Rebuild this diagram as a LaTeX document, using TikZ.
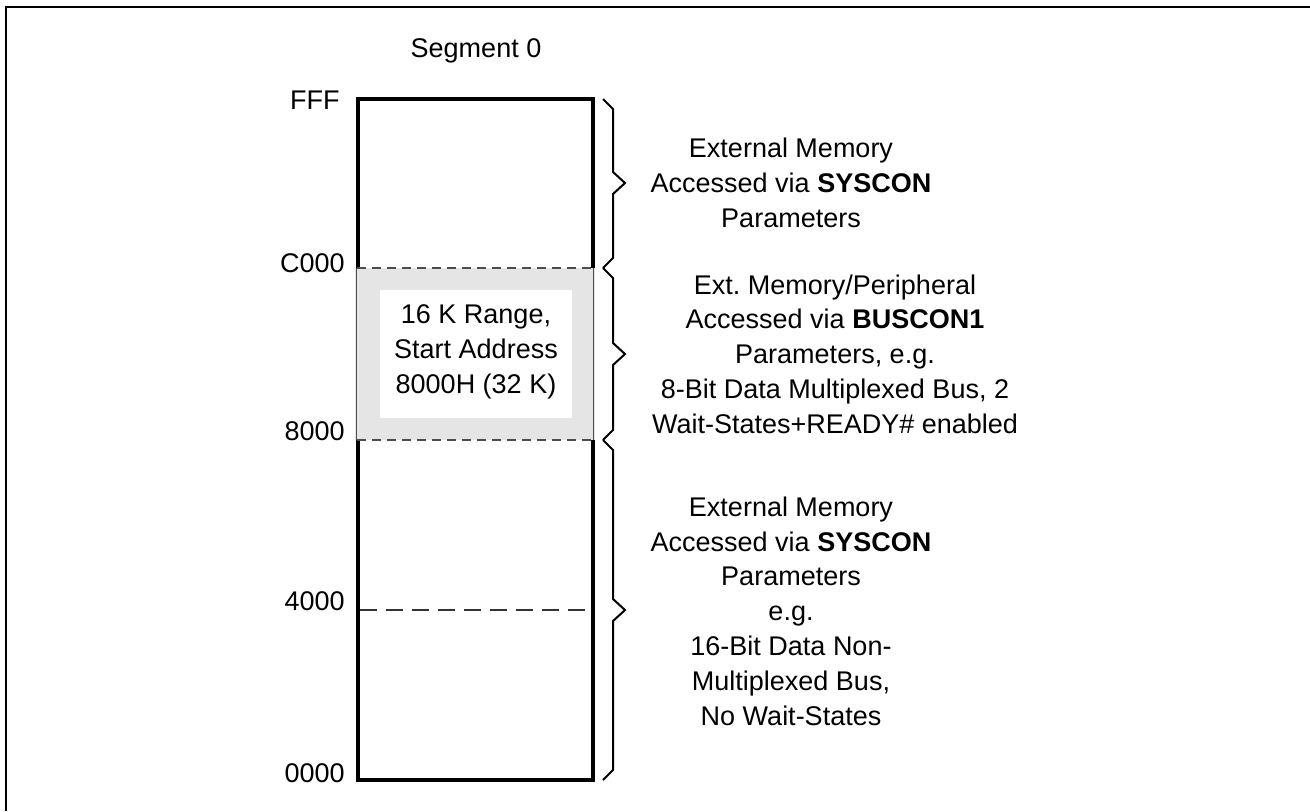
\documentclass[tikz,border=0pt]{standalone}
\usepackage{fontspec}
\setmainfont{Liberation Sans}
\usepackage{tikz}
\usetikzlibrary{positioning}
\frenchspacing
\tikzset{
  memtxt/.style={align=center, inner sep=0pt, font=\fontsize{13.5}{17.4}\selectfont},
  adr/.style={anchor=base east, inner sep=0pt, font=\fontsize{13.5}{17.4}\selectfont},
  bnd/.style={draw=black!70, line width=0.6pt, dash pattern=on 4.5pt off 3pt},
  brc/.style={line width=1pt, line join=miter}
}
\definecolor{cG}{RGB}{229,229,229}

\begin{document}
\begin{tikzpicture}[x=0.5pt, y=-0.5pt]
  \useasboundingbox (0,0) rectangle (1310,811);
  \draw[line width=1pt] (6,811) -- (6,7) -- (1310,7);
  \node[memtxt, anchor=base] (seg) at (476,57) {Segment 0};
  \draw[line width=2pt] (358,99) rectangle (593,780);
  \fill[cG] (355,268) rectangle (595,440);
  \draw[black!70, line width=0.5pt] (356.5,268) -- (356.5,440) (593.5,268) -- (593.5,440);
  \fill[white] (380,290) rectangle (572,418);
  \node[memtxt] (rng) at (476,352) {16 K Range,\\Start Address\\8000H (32 K)};
  \draw[bnd] (357,268) -- (593,268);
  \draw[bnd] (357,440) -- (593,440);
  \draw[bnd, draw=black!80, line width=1pt, dash pattern=on 8.5pt off 4.5pt] (360,610) -- (591,610);
  \foreach \lab/\x/\y in {FFF/340/109, C000/345/272, 8000/345/440, 4000/345/610, 0000/345/782}
    \node[adr] (a\lab) at (\x,\y) {\lab};
  \foreach \ya/\yt/\yb in {99/183/268, 268/354/440, 440/610/780}
    \draw[brc] (603,\ya) -- (613,\ya+10) -- (613,\yt-11) -- (625,\yt) -- (613,\yt+11) -- (613,\yb-10) -- (603,\yb);
  \node[memtxt] (ext1) at (791,183) {External Memory\\Accessed via \textbf{SYSCON}\\Parameters};
  \node[memtxt] (bus1) at (835,354) {Ext. Memory/Peripheral\\Accessed via \textbf{BUSCON1}\\Parameters, e.g.\\8-Bit Data Multiplexed Bus, 2\\Wait-States+READY\# enabled};
  \node[memtxt] (ext2) at (791,611) {External Memory\\Accessed via \textbf{SYSCON}\\Parameters\\e.g.\\16-Bit Data Non-\\Multiplexed Bus,\\No Wait-States};
\end{tikzpicture}
\end{document}
